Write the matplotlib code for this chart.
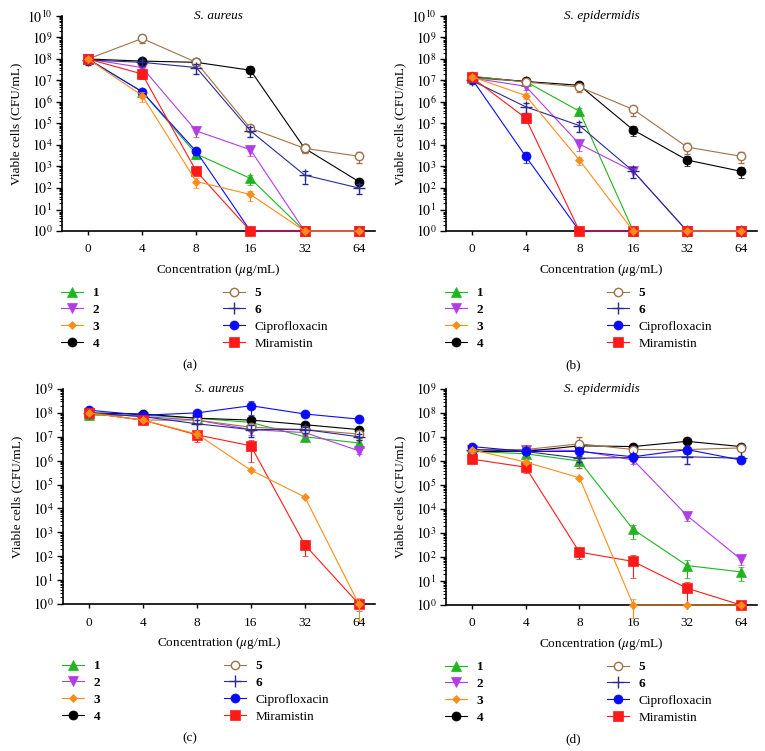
import numpy as np
import matplotlib
matplotlib.use('Agg')
import matplotlib.pyplot as plt
from matplotlib.ticker import LogLocator, FixedLocator, NullFormatter, FuncFormatter

plt.rcParams['font.family'] = ['Liberation Serif', 'DejaVu Serif']
plt.rcParams['mathtext.fontset'] = 'stix'

conc_labels = ['0', '4', '8', '16', '32', '64']
names = ['1', '2', '3', '4', '5', '6', 'Ciprofloxacin', 'Miramistin']

# (a) S. aureus, top panel, CFU/mL
a_means = [
    [1e8, 3e6, 3.8e3, 2.8e2, 1, 1],
    [1e8, 4e7, 4.5e4, 6e3, 1, 1],
    [1e8, 2e6, 2e2, 5e1, 1, 1],
    [1e8, 8e7, 7e7, 3e7, 7e3, 2e2],
    [1e8, 9e8, 7e7, 6e4, 7e3, 3e3],
    [9e7, 7e7, 4e7, 4.5e4, 4e2, 1e2],
    [1e8, 3e6, 5e3, 1, 1, 1],
    [1e8, 2e7, 6e2, 1, 1, 1],
]
a_sd = [
    [0.2, 0.3, 0.4, 0.5, 0, 0],
    [0.2, 0.3, 0.5, 0.5, 0, 0],
    [0.2, 0.5, 0.5, 0.5, 0, 0],
    [0.3, 0.3, 0.2, 0.5, 0.3, 0.3],
    [0.2, 0.4, 0.3, 0.3, 0.4, 0.5],
    [0.4, 0.3, 0.5, 0.5, 0.6, 0.5],
    [0.2, 0.3, 0.3, 0, 0, 0],
    [0.2, 0.4, 0.3, 0, 0, 0],
]

# (b) S. epidermidis, top panel
b_means = [
    [1.3e7, 9e6, 3.7e5, 1, 1, 1],
    [1.3e7, 5.4e6, 1.1e4, 6e2, 1, 1],
    [1.5e7, 2e6, 2e3, 1, 1, 1],
    [1.5e7, 9e6, 6e6, 5e4, 2e3, 6e2],
    [1.6e7, 8.5e6, 5e6, 4.5e5, 8e3, 3e3],
    [1e7, 6e5, 8e4, 6e2, 1, 1],
    [1.2e7, 3e3, 1, 1, 1, 1],
    [1.4e7, 1.8e5, 1, 1, 1, 1],
]
b_sd = [
    [0.2, 0.2, 0.4, 0, 0, 0],
    [0.2, 0.3, 0.5, 0.5, 0, 0],
    [0.2, 0.3, 0.4, 0, 0, 0],
    [0.2, 0.2, 0.3, 0.5, 0.5, 0.5],
    [0.2, 0.2, 0.4, 0.5, 0.5, 0.5],
    [0.3, 0.5, 0.5, 0.5, 0, 0],
    [0.2, 0.5, 0, 0, 0, 0],
    [0.2, 0.4, 0, 0, 0, 0],
]

# (c) S. aureus, bottom panel
c_means = [
    [8e7, 8e7, 6e7, 4e7, 1e7, 5.5e6],
    [1e8, 7e7, 5e7, 2e7, 1.5e7, 2.6e6],
    [1e8, 5e7, 1.3e7, 4e5, 3e4, 1],
    [1e8, 9e7, 6e7, 5e7, 3.2e7, 2e7],
    [1e8, 5e7, 5e7, 2.5e7, 2e7, 1.3e7],
    [1e8, 7e7, 3.5e7, 2e7, 2e7, 1e7],
    [1.3e8, 8e7, 1e8, 2e8, 9e7, 5.5e7],
    [1e8, 5e7, 1.2e7, 4.2e6, 3e2, 1],
]
c_sd = [
    [0.1, 0.2, 0.3, 0.3, 0.2, 0.3],
    [0.1, 0.2, 0.3, 0.4, 0.3, 0.3],
    [0.1, 0.2, 0.3, 0.1, 0.1, 0.8],
    [0.1, 0.3, 0.3, 0.3, 0.3, 0.3],
    [0.1, 0.2, 0.3, 0.3, 0.3, 0.3],
    [0.1, 0.3, 0.5, 0.5, 0.3, 0.3],
    [0.1, 0.1, 0.1, 0.6, 0.1, 0.1],
    [0.1, 0.2, 0.5, 0.8, 0.67, 0.5],
]

# (d) S. epidermidis, bottom panel
d_means = [
    [2.5e6, 2e6, 1e6, 1.4e3, 4.4e1, 2.4e1],
    [3e6, 3e6, 2.7e6, 1.1e6, 5.3e3, 8e1],
    [3e6, 9e5, 2e5, 1, 1, 1],
    [2.5e6, 2.5e6, 4.3e6, 4e6, 6.6e6, 4e6],
    [3e6, 3e6, 5.2e6, 3e6, 3e6, 3.5e6],
    [3e6, 2.5e6, 1.3e6, 1.4e6, 1.5e6, 1.3e6],
    [4e6, 2.5e6, 2.5e6, 1.5e6, 3e6, 1.1e6],
    [1.2e6, 5.5e5, 1.6e2, 6.5e1, 5, 1],
]
d_sd = [
    [0.1, 0.2, 0.4, 0.6, 0.7, 0.6],
    [0.1, 0.2, 0.2, 0.3, 0.4, 0.4],
    [0.1, 0.2, 0.1, 0.7, 0, 0],
    [0.1, 0.2, 0.3, 0.2, 0.1, 0.2],
    [0.1, 0.2, 0.9, 0.2, 0.2, 0.2],
    [0.2, 0.2, 0.3, 0.3, 0.5, 0.3],
    [0.1, 0.1, 0.2, 0.3, 0.3, 0.1],
    [0.2, 0.4, 0.5, 0.8, 0.8, 0.3],
]

colors = ['#1fb51f', '#b23ce6', '#ff8c1a', '#000000', '#a0724a', '#2b2b8f', '#0a0aff', '#ff1a1a']
markers = ['^', 'v', 'D', 'o', 'o', '+', 'o', 's']
msizes = [6.5, 6.5, 4.5, 6.5, 6, 8, 6.5, 6.5]
draw_order = [0, 1, 3, 4, 5, 6, 7, 2]

W, H = 765, 751
fig = plt.figure(figsize=(W / 100, H / 100), dpi=100)
fs = 9.5
fs_tick = 10


def px_axes(left, right, top, bottom):
    return fig.add_axes([left / W, 1 - bottom / H, (right - left) / W, (bottom - top) / H])


panels = [
    (px_axes(62, 375, 16, 231), a_means, a_sd, 'S. aureus', 10, '(a)', 190),
    (px_axes(446, 757, 16, 231), b_means, b_sd, 'S. epidermidis', 10, '(b)', 573),
    (px_axes(63, 375, 389, 604), c_means, c_sd, 'S. aureus', 9, '(c)', 190),
    (px_axes(446, 757, 389, 605), d_means, d_sd, 'S. epidermidis', 9, '(d)', 573),
]

x = np.arange(len(conc_labels))

for ax, means, sds, title, top_dec, tag, tag_x in panels:
    handles = [None] * len(names)
    for i in draw_order:
        m = np.array(means[i], dtype=float)
        e = m * np.array(sds[i])
        mfc = 'white' if i == 4 else colors[i]
        h = ax.errorbar(x, m, yerr=[e, e], color=colors[i], marker=markers[i],
                        ms=msizes[i], mfc=mfc, mec=colors[i], mew=1.0 if i in (4, 5) else 0.5,
                        lw=0.8, elinewidth=0.8, capsize=2.5, capthick=0.8,
                        clip_on=False, label=names[i], zorder=3 + draw_order.index(i))
        for art in h.lines[1]:
            art.set_clip_on(False)
        for art in h.lines[2]:
            art.set_clip_on(False)
        handles[i] = h[0]

    ax.set_yscale('log')
    ax.set_ylim(1, 10 ** top_dec)
    ax.set_xlim(-0.48, 5.3)
    ax.yaxis.set_major_locator(LogLocator(base=10, numticks=20))
    ax.yaxis.set_minor_locator(LogLocator(base=10, subs=np.arange(2, 10), numticks=20))
    ax.yaxis.set_minor_formatter(NullFormatter())
    ax.yaxis.set_major_formatter(FuncFormatter(lambda v, p: r'$10^{%d}$' % round(np.log10(v))))
    ax.xaxis.set_major_locator(FixedLocator(x))
    ax.set_xticklabels(conc_labels)
    for s in ('top', 'right'):
        ax.spines[s].set_visible(False)
    for s in ('left', 'bottom'):
        ax.spines[s].set_linewidth(1.2)
    ax.tick_params(axis='y', which='major', length=4, width=1.0, labelsize=fs_tick, pad=3)
    ax.tick_params(axis='y', which='minor', length=2.5, width=0.7)
    ax.tick_params(axis='x', length=3, width=1.0, labelsize=fs, pad=6)

    ax.set_xlabel(r'Concentration ($\mu$g/mL)', fontsize=fs, labelpad=5)
    ax.set_ylabel('Viable cells (CFU/mL)', fontsize=fs)
    ax.yaxis.set_label_coords(-0.128, 0.5)
    ax.text(0.5, 1.0, title, transform=ax.transAxes, ha='center', va='center',
            fontsize=fs, style='italic')

    # legends below the axes, two columns
    bb = ax.get_position()
    leg_top = bb.y0 - 56 / H
    leg_kw = dict(loc='upper left', bbox_transform=fig.transFigure, frameon=False,
                  fontsize=fs, handlelength=1.7, handletextpad=0.7,
                  labelspacing=0.35, borderpad=0, borderaxespad=0)
    leg1 = ax.legend(handles[:4], names[:4], bbox_to_anchor=(bb.x0 - 1 / W, leg_top), **leg_kw)
    for t in leg1.get_texts():
        t.set_fontweight('bold')
    ax.add_artist(leg1)
    leg2 = ax.legend(handles[4:], names[4:], bbox_to_anchor=(bb.x0 + 161 / W, leg_top), **leg_kw)
    for t in leg2.get_texts()[:2]:
        t.set_fontweight('bold')

    fig.text(tag_x / W, bb.y0 - 134 / H, tag, ha='center', va='center', fontsize=fs)

fig.savefig('out.png', dpi=100)
